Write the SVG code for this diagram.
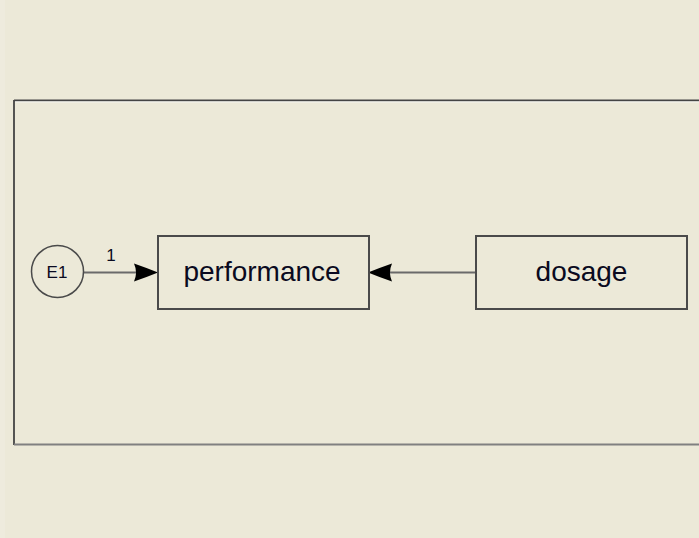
<svg xmlns="http://www.w3.org/2000/svg" width="699" height="538" viewBox="0 0 699 538">
<style>
.box{fill:none;stroke:#4a4a4a;stroke-width:2}
.lbl{font-family:"Liberation Sans",Arial,sans-serif;fill:#0a0a20;text-anchor:middle}
.big{font-size:28px}
.small{font-size:17px}
.conn{stroke:#6a6a6a;stroke-width:2;fill:none}
.head{fill:#000}
</style>
<rect x="0" y="0" width="699" height="538" fill="#ECE9D8"/>
<rect x="0" y="0" width="5" height="538" fill="#EEEBDD"/>
<g id="frame">
<line x1="14" y1="100.5" x2="699" y2="100.5" stroke="#444" stroke-width="1.8"/>
<line x1="15" y1="101.9" x2="699" y2="101.9" stroke="#f8f8f4" stroke-width="1"/>
<line x1="14" y1="100" x2="14" y2="445" stroke="#444" stroke-width="1.8"/>
<line x1="14" y1="444.5" x2="699" y2="444.5" stroke="#808080" stroke-width="1.8"/>
</g>
<g id="connectors">
<line class="conn" x1="84" y1="272.5" x2="138" y2="272.5"/>
<path class="head" d="M134,263.5 Q147,268 158,272.5 Q147,277 134,281.5 Q138,272.5 134,263.5 Z"/>
<text class="lbl small" x="111" y="261">1</text>
<line class="conn" x1="476" y1="272.5" x2="388" y2="272.5"/>
<path class="head" d="M392,263.5 Q379,268 368,272.5 Q379,277 392,281.5 Q388,272.5 392,263.5 Z"/>
</g>
<g id="E1">
<circle cx="57.5" cy="271.5" r="26" fill="none" stroke="#4a4a4a" stroke-width="1.5"/>
<text class="lbl small" x="57" y="278">E1</text>
</g>
<g id="performance">
<rect class="box" x="158" y="236" width="211" height="73"/>
<text class="lbl big" x="262" y="281">performance</text>
</g>
<g id="dosage">
<rect class="box" x="476" y="236" width="211" height="73"/>
<text class="lbl big" x="581.5" y="281">dosage</text>
</g>
</svg>
